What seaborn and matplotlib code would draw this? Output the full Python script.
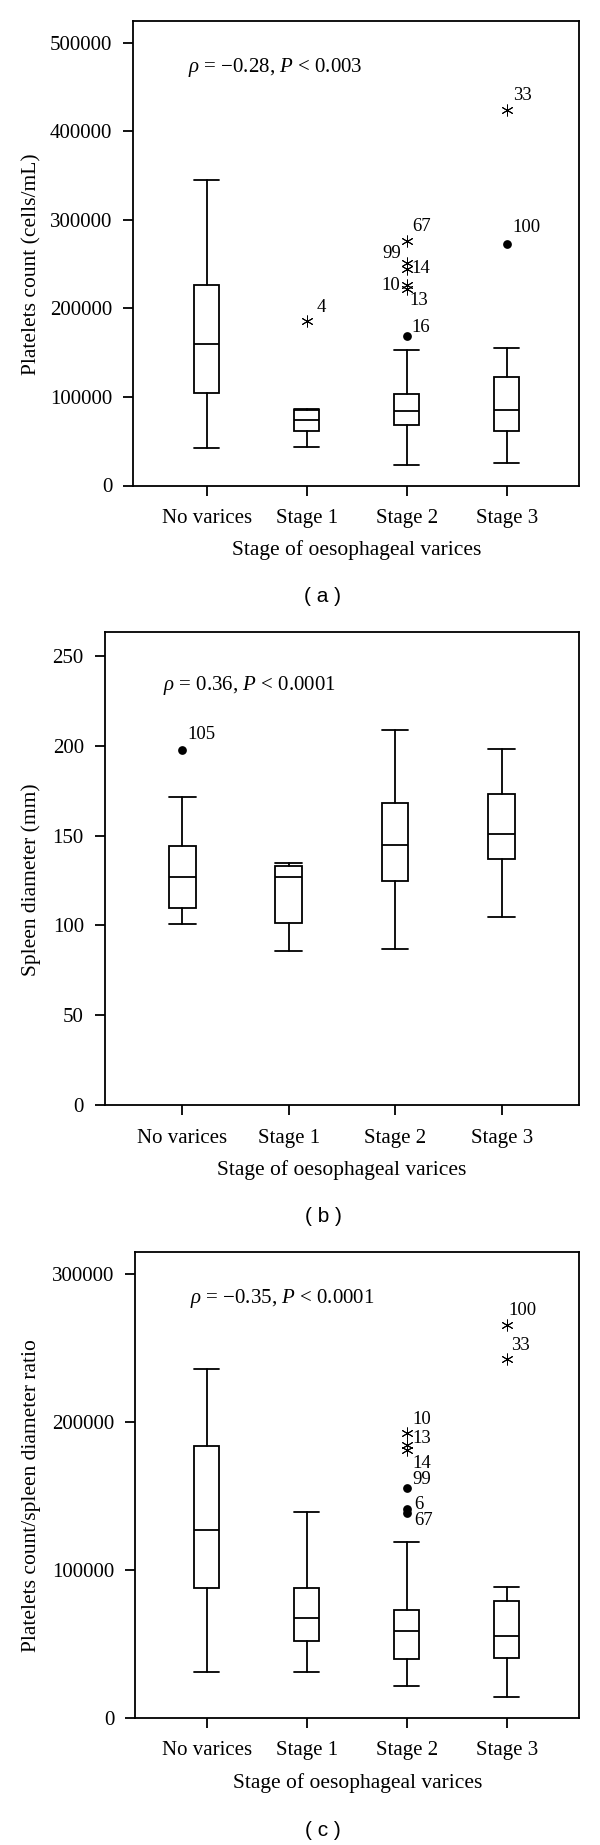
import matplotlib
matplotlib.use("Agg")
import matplotlib.pyplot as plt
import seaborn as sns
import pandas as pd

# ---------------- data ----------------
cats = ["No varices", "Stage 1", "Stage 2", "Stage 3"]

# (a) platelets count
a_whislo = [42000, 43200, 22600, 25100]
a_q1 = [104700, 61400, 67900, 61400]
a_med = [159700, 74000, 83700, 84900]
a_q3 = [226000, 85000, 103900, 122000]
a_whishi = [345600, 86500, 152800, 154800]
a_out_stage = ["Stage 1", "Stage 2", "Stage 2", "Stage 2", "Stage 2", "Stage 2", "Stage 2", "Stage 3", "Stage 3"]
a_out_value = [186300, 168500, 275700, 251800, 244000, 226400, 222000, 272800, 424000]
a_out_label = ["4", "16", "67", "99", "14", "10", "13", "100", "33"]
a_out_kind = ["star", "dot", "star", "star", "star", "star", "star", "dot", "star"]

# (b) spleen diameter
b_whislo = [100.8, 85.8, 86.6, 104.7]
b_q1 = [109.9, 101.3, 124.8, 136.9]
b_med = [127.0, 126.8, 144.5, 150.8]
b_q3 = [143.9, 132.8, 167.9, 173.3]
b_whishi = [171.7, 134.7, 208.9, 197.9]
b_out_stage = ["No varices"]
b_out_value = [197.7]
b_out_label = ["105"]
b_out_kind = ["dot"]

# (c) platelets count / spleen diameter ratio
c_whislo = [30700, 31200, 21700, 13700]
c_q1 = [87800, 51600, 39600, 40700]
c_med = [126800, 67200, 58800, 55500]
c_q3 = [183700, 87800, 73000, 79200]
c_whishi = [235600, 138800, 119000, 88700]
c_out_stage = ["Stage 2", "Stage 2", "Stage 2", "Stage 2", "Stage 2", "Stage 2", "Stage 3", "Stage 3"]
c_out_value = [192400, 184500, 181000, 155200, 141000, 138300, 265700, 242500]
c_out_label = ["10", "13", "14", "99", "6", "67", "100", "33"]
c_out_kind = ["star", "star", "star", "dot", "dot", "dot", "star", "star"]

# label placement (pixel offsets: dx, dy(up), ha)
a_lab_off = [(10, 13, "left"), (5, 9, "left"), (6, 15, "left"), (-6, 9, "right"),
             (5, 1, "left"), (-7, 0, "right"), (3, -12, "left"), (6, 16, "left"), (6, 15, "left")]
b_lab_off = [(5, 15, "left")]
c_lab_off = [(6, 14, "left"), (6, 6, "left"), (6, -13, "left"), (6, 9, "left"),
             (7, 5, "left"), (7, -7, "left"), (2, 14, "left"), (4, 14, "left")]

# ---------------- style ----------------
sns.set_style("ticks")
plt.rcParams["font.family"] = ["Liberation Serif", "DejaVu Serif"]
plt.rcParams["mathtext.fontset"] = "custom"
plt.rcParams["mathtext.rm"] = "Liberation Serif"
plt.rcParams["mathtext.it"] = "Liberation Serif:italic"
plt.rcParams["axes.linewidth"] = 1.3
plt.rcParams["axes.edgecolor"] = "black"

FS = 15
LW = 1.3

fig = plt.figure(figsize=(6, 18.45), dpi=100)


def panel(rect, whislo, q1, med, q3, whishi, out_stage, out_value, out_label, out_kind,
          lab_off, ylim, yticks, ylabel, xlim, ylab_x, ylab_y, xlab_y, note, note_xy):
    ax = fig.add_axes(rect)
    stats = [dict(whislo=lo, q1=a1, med=m, q3=a3, whishi=hi, fliers=[], label=c)
             for lo, a1, m, a3, hi, c in zip(whislo, q1, med, q3, whishi, cats)]
    ax.bxp(stats, positions=range(len(cats)), widths=0.25, capwidths=0.25,
           showfliers=False, patch_artist=True,
           boxprops=dict(facecolor="white", edgecolor="black", linewidth=LW),
           medianprops=dict(color="black", linewidth=LW),
           whiskerprops=dict(color="black", linewidth=LW),
           capprops=dict(color="black", linewidth=LW))
    df = pd.DataFrame(dict(stage=out_stage, value=out_value, kind=out_kind))
    dots = df[df.kind == "dot"]
    stars = df[df.kind == "star"]
    if len(dots):
        sns.stripplot(data=dots, x="stage", y="value", order=cats, jitter=False,
                      color="black", size=6.3, linewidth=0, ax=ax, zorder=4)
    if len(stars):
        sns.stripplot(data=stars, x="stage", y="value", order=cats, jitter=False,
                      color="black", edgecolor="black", marker=(6, 2, 0), size=8,
                      linewidth=0.7, ax=ax, zorder=4)
    for st, v, lab, (dx, dy, ha) in zip(out_stage, out_value, out_label, lab_off):
        ax.annotate(lab, xy=(cats.index(st), v), xytext=(dx, dy),
                    textcoords="offset pixels", ha=ha, va="center", fontsize=13.5,
                    color="black")
    ax.set_xlim(*xlim)
    ax.set_ylim(*ylim)
    ax.set_yticks(yticks)
    ax.set_yticklabels([str(t) for t in yticks])
    ax.set_xticks(range(len(cats)))
    ax.set_xticklabels(cats)
    ax.tick_params(axis="both", labelsize=FS, length=7, width=LW, color="black",
                   labelcolor="black", direction="out")
    ax.tick_params(axis="y", pad=8)
    ax.tick_params(axis="x", pad=10)
    for s in ax.spines.values():
        s.set_visible(True)
        s.set_linewidth(LW)
        s.set_color("black")
    ax.set_ylabel(ylabel, fontsize=15.5, color="black")
    ax.yaxis.set_label_coords(ylab_x, ylab_y)
    ax.yaxis.label.set_va("center")
    ax.set_xlabel("Stage of oesophageal varices", fontsize=15.5, color="black")
    ax.xaxis.set_label_coords(0.5, xlab_y)
    ax.xaxis.label.set_va("center")
    ax.text(note_xy[0], note_xy[1], note, fontsize=15, ha="left", va="baseline",
            color="black")
    return ax


W, H = 600.0, 1845.0


def rect(l, r, t, b):
    return [l / W, 1 - b / H, (r - l) / W, (b - t) / H]


def labpos(r, ylab_px_x, ylab_px_y, xlab_px_y):
    l, rr, t, b = r
    return ((ylab_px_x - l) / (rr - l), (b - ylab_px_y) / (b - t), -(xlab_px_y - b) / (b - t))


# (a)
ra = (133.3, 579.3, 20.7, 485.5)
yx, yy, xy = labpos(ra, 31.4, 264, 550)
panel(rect(*ra), a_whislo, a_q1, a_med, a_q3, a_whishi, a_out_stage, a_out_value,
      a_out_label, a_out_kind, a_lab_off, (0, 525000), [0, 100000, 200000, 300000, 400000, 500000],
      "Platelets count (cells/mL)", (-0.734, 3.726), yx, yy, xy,
      r"$\rho$ = −0.28, $P$ < 0.003", (-0.184, 467300))

# (b)
rb = (104.7, 579.3, 632.0, 1105.0)
yx, yy, xy = labpos(rb, 31.4, 880, 1170)
panel(rect(*rb), b_whislo, b_q1, b_med, b_q3, b_whishi, b_out_stage, b_out_value,
      b_out_label, b_out_kind, b_lab_off, (0, 263.3), [0, 50, 100, 150, 200, 250],
      "Spleen diameter (mm)", (-0.728, 3.729), yx, yy, xy,
      r"$\rho$ = 0.36, $P$ < 0.0001", (-0.183, 231.1))

# (c)
rc = (135.3, 579.3, 1252.0, 1717.7)
yx, yy, xy = labpos(rc, 31.4, 1496, 1783.3)
panel(rect(*rc), c_whislo, c_q1, c_med, c_q3, c_whishi, c_out_stage, c_out_value,
      c_out_label, c_out_kind, c_lab_off, (0, 315000), [0, 100000, 200000, 300000],
      "Platelets count/spleen diameter ratio", (-0.717, 3.726), yx, yy, xy,
      r"$\rho$ = −0.35, $P$ < 0.0001", (-0.167, 280400))

for lab, y in [("( a )", 596), ("( b )", 1216), ("( c )", 1831)]:
    fig.text(323 / W, 1 - y / H, lab, ha="center", va="center", fontsize=15,
             family=["Liberation Sans", "DejaVu Sans"], color="black")

fig.savefig("out.png", dpi=100)
